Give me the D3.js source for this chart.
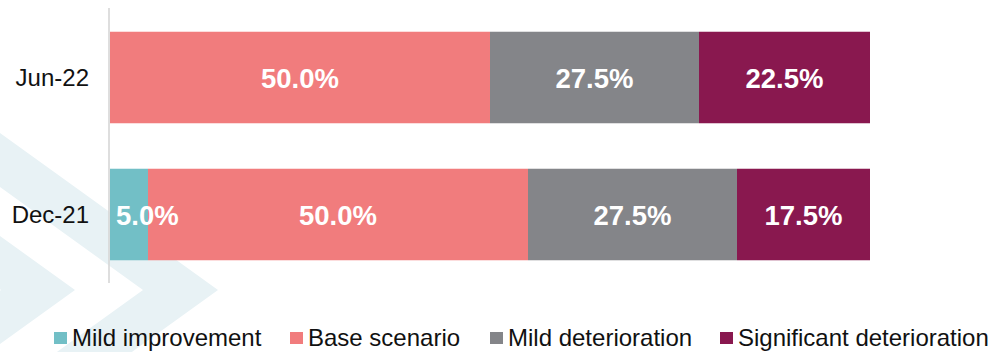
<!DOCTYPE html>
<html>
<head>
<meta charset="utf-8">
<script src="https://cdn.jsdelivr.net/npm/d3@7"></script>
<style>
  html, body { margin: 0; padding: 0; background: #ffffff; }
  svg { display: block; }
  text { font-family: "Liberation Sans", Arial, sans-serif; }
</style>
</head>
<body>
<svg id="chart" width="991" height="352"></svg>
<script>
// ---- data ----
const categories = ["Jun-22", "Dec-21"];
const seriesNames = ["Mild improvement", "Base scenario", "Mild deterioration", "Significant deterioration"];
const mildImprovement = [0, 5.0];
const baseScenario = [50.0, 50.0];
const mildDeterioration = [27.5, 27.5];
const significantDeterioration = [22.5, 17.5];
const seriesColors = ["#72bfc6", "#f17c7d", "#848589", "#89184f"];

// ---- build table ----
const values = [mildImprovement, baseScenario, mildDeterioration, significantDeterioration];
const table = categories.map((c, i) => {
  const row = { cat: c };
  seriesNames.forEach((s, j) => row[s] = values[j][i]);
  return row;
});
const stacked = d3.stack().keys(seriesNames)(table);

const svg = d3.select("#chart");

// ---- background chevrons ----
const slope = 0.72, apexY = 290;
const bg = svg.append("g");
function band(tipOuter, tipInner) {
  const far = -400;
  const p = [
    [tipOuter, apexY],
    [far, apexY - (tipOuter - far) * slope],
    [far, apexY - (tipInner - far) * slope],
    [tipInner, apexY],
    [far, apexY + (tipInner - far) * slope],
    [far, apexY + (tipOuter - far) * slope]
  ];
  return "M" + p.map(d => d.join(",")).join("L") + "Z";
}
[[218, 143], [75, 1]].forEach(b => {
  bg.append("path").attr("d", band(b[0], b[1])).attr("fill", "#e8f2f5");
});

// ---- scales ----
const x = d3.scaleLinear().domain([0, 100]).range([110, 870]);
const y = d3.scaleBand().domain(categories).range([9, 283]).paddingInner(0.332).paddingOuter(0.166);

// ---- bars ----
const layers = svg.append("g").selectAll("g").data(stacked).join("g")
  .attr("fill", (d, i) => seriesColors[i]);
layers.selectAll("rect").data(d => d).join("rect")
  .attr("x", d => x(d[0]))
  .attr("y", d => y(d.data.cat))
  .attr("width", d => Math.max(0, x(d[1]) - x(d[0])))
  .attr("height", y.bandwidth());

// ---- value labels ----
const lab = svg.append("g");
stacked.forEach(layer => {
  layer.forEach(d => {
    const v = d[1] - d[0];
    if (v <= 0) return;
    const x0 = x(d[0]), x1 = x(d[1]);
    const t = lab.append("text")
      .attr("y", y(d.data.cat) + y.bandwidth() / 2 + 10)
      .attr("fill", "#ffffff")
      .attr("font-weight", "bold")
      .attr("font-size", "27.5px")
      .text(v.toFixed(1) + "%");
    const w = t.node().getComputedTextLength();
    if (w > x1 - x0) {
      t.attr("x", x0 + 6).attr("text-anchor", "start");
    } else {
      t.attr("x", (x0 + x1) / 2).attr("text-anchor", "middle");
    }
  });
});

// ---- axis ----
const yAxis = d3.axisLeft(y).tickSize(0).tickPadding(20);
const ag = svg.append("g").attr("transform", "translate(109,0)").call(yAxis);
ag.select(".domain").attr("stroke", "#d6d6d6").attr("stroke-width", 1.6)
  .attr("d", "M0,8V283");
ag.selectAll(".tick text")
  .attr("font-family", "\"Liberation Sans\", Arial, sans-serif")
  .attr("font-size", "24px")
  .attr("fill", "#111111")
  .attr("dy", "0.36em");

// ---- legend ----
const legendX = [54, 290, 490, 720];
const leg = svg.append("g");
seriesNames.forEach((s, i) => {
  const lx = legendX[i];
  leg.append("rect").attr("x", lx).attr("y", 332).attr("width", 13).attr("height", 12)
    .attr("fill", seriesColors[i]);
  const t = leg.append("text").attr("x", lx + 18).attr("y", 346)
    .attr("font-size", "24px").attr("fill", "#111111").text(s);
  const maxW = (i < seriesNames.length - 1 ? legendX[i + 1] - 6 : 989) - (lx + 18);
  if (t.node().getComputedTextLength() > maxW) {
    t.attr("textLength", maxW).attr("lengthAdjust", "spacingAndGlyphs");
  }
});
</script>
</body>
</html>
